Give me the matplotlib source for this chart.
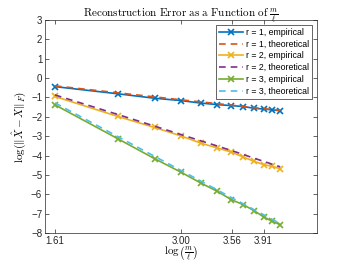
import numpy as np
import matplotlib
matplotlib.use("Agg")
import matplotlib.pyplot as plt

plt.rcParams['mathtext.fontset'] = 'cm'
plt.rcParams['font.family'] = ['Liberation Sans', 'DejaVu Sans']

ratios = [5, 10, 15, 20, 25, 30, 35, 40, 45, 50, 55, 60]
x = np.log(ratios)

r1_emp = [-0.44, -0.81, -1.04, -1.16, -1.29, -1.37, -1.42, -1.47, -1.56, -1.60, -1.64, -1.69]
r1_theo = [-0.40, -0.76, -0.97, -1.12, -1.23, -1.32, -1.40, -1.47, -1.53, -1.58, -1.63, -1.67]
r2_emp = [-0.95, -1.98, -2.55, -2.98, -3.36, -3.61, -3.82, -4.08, -4.30, -4.47, -4.56, -4.68]
r2_theo = [-0.87, -1.88, -2.48, -2.91, -3.24, -3.51, -3.74, -3.95, -4.14, -4.30, -4.45, -4.58]
r3_emp = [-1.38, -3.13, -4.16, -4.85, -5.42, -5.85, -6.28, -6.54, -6.85, -7.17, -7.40, -7.57]
r3_theo = [-1.28, -3.02, -4.04, -4.76, -5.32, -5.78, -6.17, -6.50, -6.80, -7.06, -7.30, -7.52]

xticks = [1.61, 3.00, 3.56, 3.91]
xtick_labels = ['1.61', '3.00', '3.56', '3.91']
yticks = list(range(-8, 4))

colors = ['#0072BD', '#D95319', '#EDB120', '#7E2F8E', '#77AC30', '#4DBEEE']

fig = plt.figure(figsize=(3.5, 2.63), dpi=100)
ax = fig.add_axes([45/350, 30/263, 272/350, 213/263])

lw = 1.2
ms = 5
ax.plot(x, r1_emp, '-x', color=colors[0], lw=lw, ms=ms, mew=1.2, label='r = 1, empirical')
ax.plot(x, r1_theo, '--', color=colors[1], lw=lw, dashes=(4, 3), label='r = 1, theoretical')
ax.plot(x, r2_emp, '-x', color=colors[2], lw=lw, ms=ms, mew=1.2, label='r = 2, empirical')
ax.plot(x, r2_theo, '--', color=colors[3], lw=lw, dashes=(4, 3), label='r = 2, theoretical')
ax.plot(x, r3_emp, '-x', color=colors[4], lw=lw, ms=ms, mew=1.2, label='r = 3, empirical')
ax.plot(x, r3_theo, '--', color=colors[5], lw=lw, dashes=(4, 3), label='r = 3, theoretical')

ax.set_xlim(1.5, 4.5)
ax.set_ylim(-8, 3)
ax.set_xticks(xticks)
ax.set_xticklabels(xtick_labels)
ax.set_yticks(yticks)
ax.tick_params(direction='in', length=3, width=0.5, colors='#262626', labelsize=7,
               top=True, right=True, pad=2)
for s in ax.spines.values():
    s.set_color('#262626')
    s.set_linewidth(0.5)

ax.set_title(r'$\mathrm{Reconstruction\ Error\ as\ a\ Function\ of\ }\frac{m}{\ell}$',
             fontsize=8, pad=3)
ax.set_xlabel(r'$\log\left(\frac{m}{\ell}\right)$', fontsize=8, labelpad=-1)
ax.set_ylabel(r'$\log(\|\hat{X} - X\|_F)$', fontsize=8, labelpad=2)

leg = ax.legend(loc='upper right', fontsize=6.3, handlelength=2.8, handletextpad=0.3,
                labelspacing=0.32, borderpad=0.3, borderaxespad=0.6, fancybox=False,
                framealpha=1, edgecolor='#262626')
leg.get_frame().set_linewidth(0.5)

fig.savefig('out.png', dpi=100)
